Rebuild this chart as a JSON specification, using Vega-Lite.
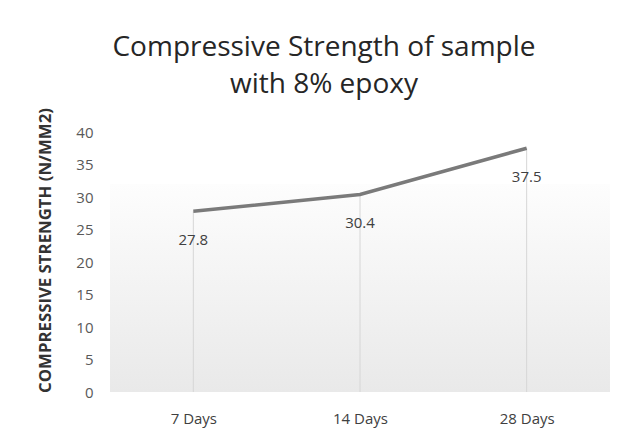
{
  "$schema": "https://vega.github.io/schema/vega-lite/v6.json",
  "autosize": {"type": "none"},
  "width": 500,
  "height": 260,
  "padding": {"left": 110, "top": 132, "right": 12, "bottom": 49},
  "background": "white",
  "config": {
    "view": {"stroke": null},
    "font": "Open Sans"
  },
  "title": {
    "text": ["Compressive Strength of sample", "with 8% epoxy"],
    "fontSize": 28,
    "fontWeight": "normal",
    "color": "#262626",
    "lineHeight": 37,
    "anchor": "middle",
    "frame": "group",
    "dx": -36,
    "offset": 9
  },
  "data": {
    "values": [
      {"age": "7 Days", "strength": 27.8},
      {"age": "14 Days", "strength": 30.4},
      {"age": "28 Days", "strength": 37.5}
    ]
  },
  "encoding": {
    "x": {
      "field": "age",
      "type": "ordinal",
      "sort": null,
      "scale": {"type": "point", "padding": 0.5},
      "axis": {
        "title": null,
        "labelAngle": 0,
        "labelFontSize": 15,
        "labelColor": "#404040",
        "labelPadding": 19,
        "ticks": false,
        "domain": false
      }
    },
    "y": {
      "field": "strength",
      "type": "quantitative",
      "scale": {"domain": [0, 40], "nice": false},
      "axis": {
        "title": "COMPRESSIVE STRENGTH (N/MM2)",
        "titleFontSize": 16.8,
        "titleFontWeight": "bold",
        "titleColor": "#333333",
        "titleX": -56,
        "titleY": 118,
        "values": [0, 5, 10, 15, 20, 25, 30, 35, 40],
        "labelFontSize": 15,
        "labelColor": "#595959",
        "labelPadding": 17,
        "ticks": false,
        "domain": false,
        "grid": false
      }
    }
  },
  "layer": [
    {
      "mark": {
        "type": "rect",
        "color": {
          "gradient": "linear",
          "x1": 0, "y1": 0, "x2": 0, "y2": 1,
          "stops": [
            {"offset": 0, "color": "#fdfdfd"},
            {"offset": 1, "color": "#e9e9e9"}
          ]
        }
      },
      "encoding": {
        "x": null,
        "y": {"datum": 32, "type": "quantitative"},
        "y2": {"datum": 0}
      }
    },
    {
      "mark": {"type": "rule", "color": "#d6d6d6", "strokeWidth": 1},
      "encoding": {
        "y2": {"datum": 0}
      }
    },
    {
      "mark": {"type": "line", "color": "#7a7a7a", "strokeWidth": 3.5}
    },
    {
      "mark": {"type": "text", "dy": 29, "fontSize": 15, "color": "#404040"},
      "encoding": {
        "text": {"field": "strength", "type": "quantitative", "format": ".1f"}
      }
    }
  ]
}
